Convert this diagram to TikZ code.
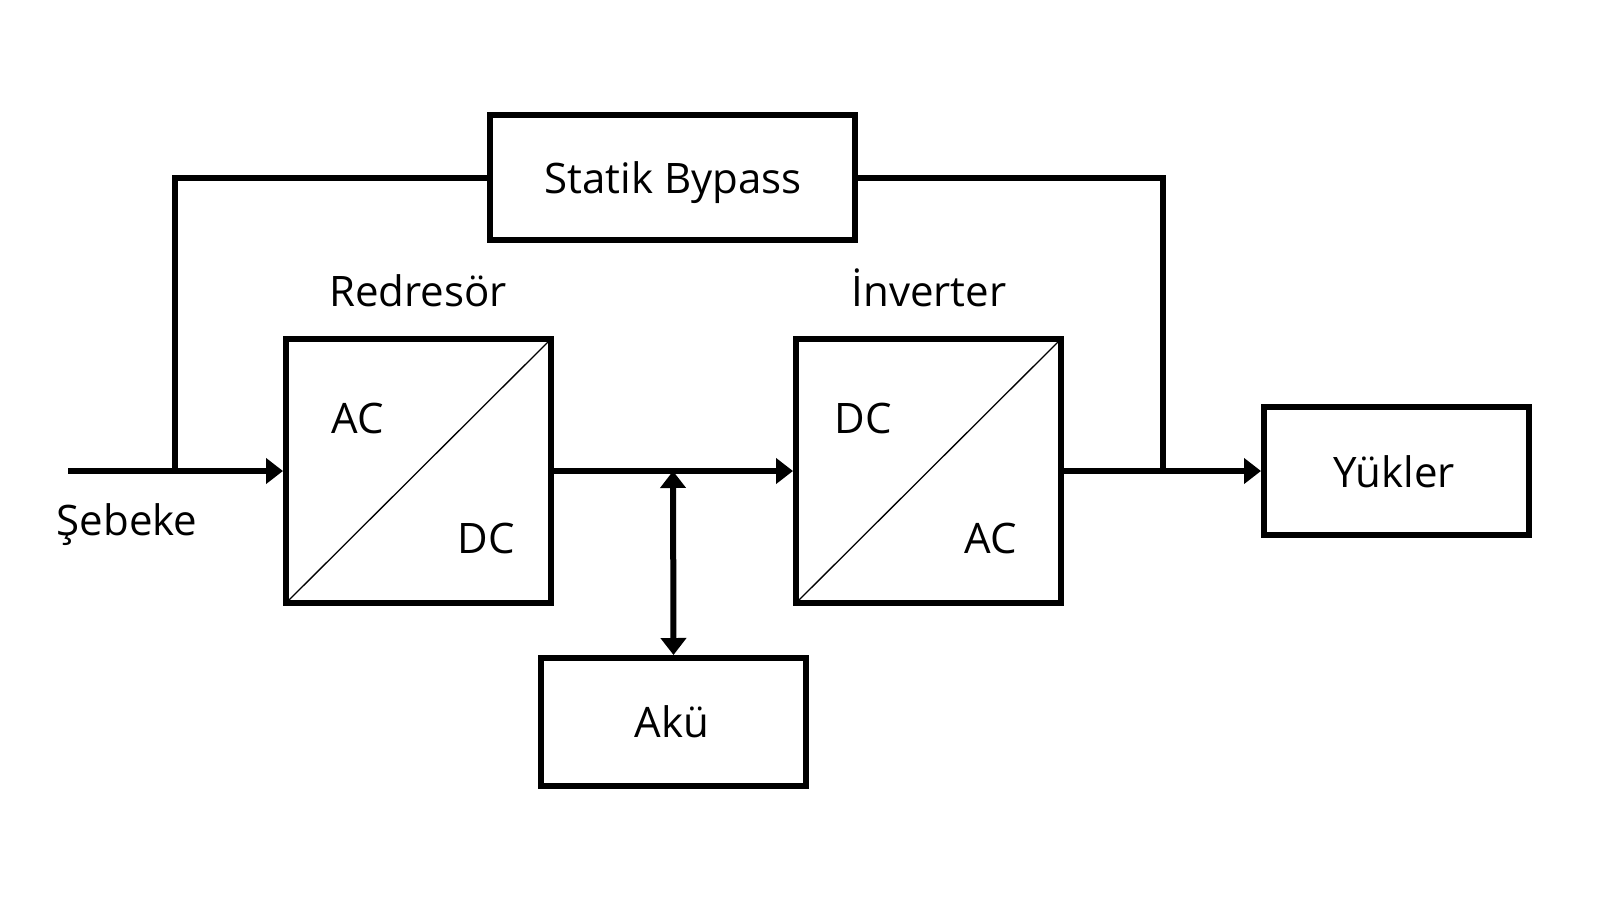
\documentclass[tikz,border=0pt]{standalone}
\usepackage{fontspec}
\setmainfont{Open Sans}
\usetikzlibrary{arrows.meta}
\begin{document}
\begin{tikzpicture}[x=1pt,y=-1pt,
  line width=6pt,
  box/.style={draw,line width=6pt,inner sep=0pt},
  conv/.style={box,minimum width=265pt,minimum height=264pt,
    path picture={\draw[line width=1.3pt] (path picture bounding box.south west) -- (path picture bounding box.north east);}},
  lbl/.style={font=\fontsize{42}{50}\selectfont,anchor=base,inner sep=0pt},
  arr/.style={-{Triangle[length=17pt,width=25pt]}},
  darr/.style={{Triangle[length=17pt,width=25pt]}-{Triangle[length=17pt,width=25pt]}}
]
\useasboundingbox (0,0) rectangle (1600,900);
\fill[white] (0,0) rectangle (1600,900);

\node[box,minimum width=365pt,minimum height=125pt] (bypass) at (672.5,177.5) {};
\node[conv] (red) at (418.5,471) {};
\node[conv] (inv) at (928.5,471) {};
\node[box,minimum width=265pt,minimum height=128pt] (yuk) at (1396.5,471) {};
\node[box,minimum width=265pt,minimum height=128pt] (aku) at (673.5,722) {};

\node[lbl] (bypl) at (673,193) {Statik Bypass};
\node[lbl] (yukl) at (1394,487) {Yükler};
\node[lbl] (akul) at (672,737) {Akü};
\node[lbl] (redl) at (418,306) {Redresör};
\node[lbl] (invl) at (929,306) {İnverter};
\node[lbl] (seb) at (127,535) {Şebeke};
\node[lbl] (rac) at (358,433) {AC};
\node[lbl] (rdc) at (486,553) {DC};
\node[lbl] (idc) at (863,433) {DC};
\node[lbl] (iac) at (991,553) {AC};

\coordinate (src) at (68,471);
\coordinate (j1) at (175,471);
\coordinate (j2) at (673,471);
\coordinate (j3) at (1163,471);

\draw[arr] (src) -- (red.west);
\draw (j1) |- (bypass.west);
\draw[arr] (red.east) -- (inv.west);
\draw[darr] (j2) -- (aku.north);
\draw[arr] (inv.east) -- (yuk.west);
\draw (j3) |- (bypass.east);
\end{tikzpicture}
\end{document}
